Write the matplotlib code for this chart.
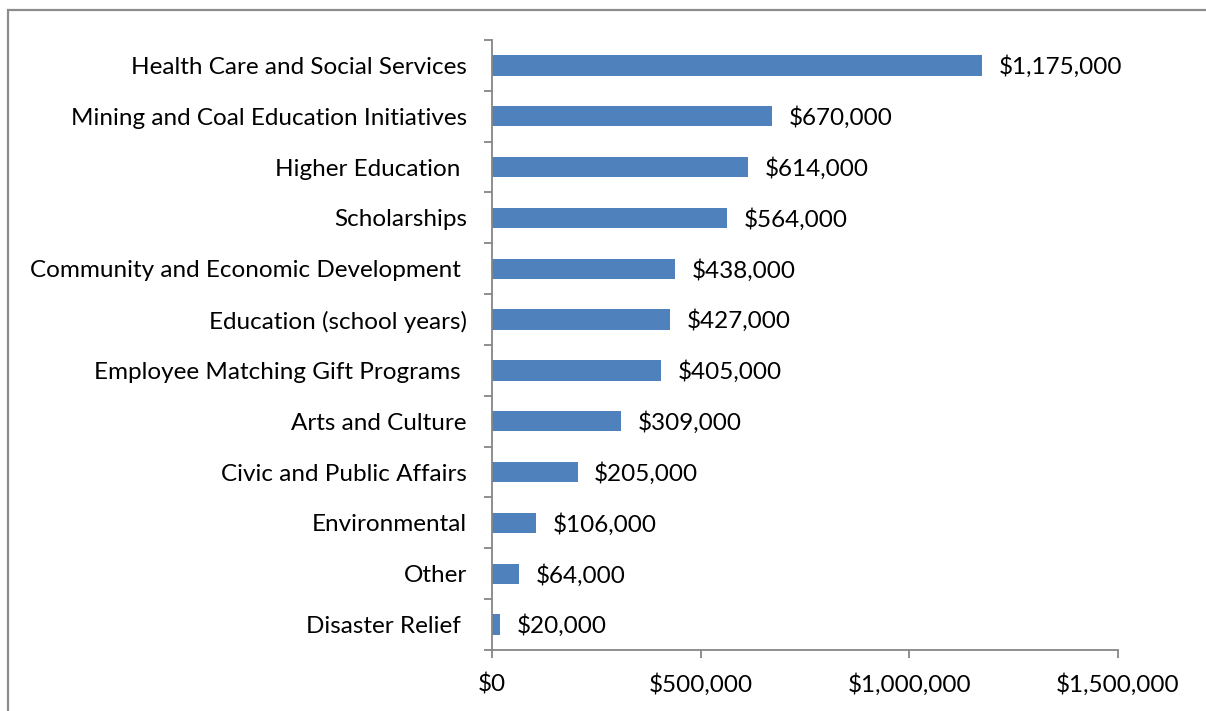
import matplotlib.pyplot as plt
from matplotlib.ticker import FuncFormatter, FixedLocator
from matplotlib.patches import Rectangle

categories = [
    'Health Care and Social Services',
    'Mining and Coal Education Initiatives',
    'Higher Education ',
    'Scholarships',
    'Community and Economic Development ',
    'Education (school years)',
    'Employee Matching Gift Programs ',
    'Arts and Culture',
    'Civic and Public Affairs',
    'Environmental',
    'Other',
    'Disaster Relief ',
]
amounts = [1175000, 670000, 614000, 564000, 438000, 427000,
           405000, 309000, 205000, 106000, 64000, 20000]
x_ticks = [0, 500000, 1000000, 1500000]

plt.rcParams['font.family'] = ['Lato', 'DejaVu Sans']
axis_grey = '#868686'
bar_blue = '#4F81BD'
fs = 17.5

fig = plt.figure(figsize=(12.06, 7.11), dpi=100)
W, H = 1206, 711
# axes box in pixel coords: x 492..1118, y 40..650
ax = fig.add_axes([492 / W, 1 - 650 / H, (1118 - 492) / W, (650 - 40) / H])

n = len(categories)
pos = list(range(n))[::-1]
ax.barh(pos, amounts, height=0.4, color=bar_blue, edgecolor='none')

for p, v in zip(pos, amounts):
    ax.annotate(f'${v:,.0f}', xy=(v, p), xytext=(12, -1), textcoords='offset points',
                va='center', ha='left', fontsize=fs, color='black')

ax.set_xlim(0, 1500000)
ax.set_ylim(-0.5, n - 0.5)
ax.set_xticks(x_ticks)
ax.xaxis.set_major_formatter(FuncFormatter(lambda v, _: f'${v:,.0f}'))
ax.set_yticks(pos)
ax.set_yticklabels(categories)
ax.yaxis.set_minor_locator(FixedLocator([i - 0.5 for i in range(n + 1)]))

for s in ['top', 'right']:
    ax.spines[s].set_visible(False)
for s in ['left', 'bottom']:
    ax.spines[s].set_color(axis_grey)
    ax.spines[s].set_linewidth(1.3)

ax.tick_params(axis='x', direction='out', length=6, width=1.3, color=axis_grey,
               labelsize=fs, pad=11)
ax.tick_params(axis='y', which='major', length=0, labelsize=fs, pad=18)
ax.tick_params(axis='y', which='minor', direction='out', length=6, width=1.3,
               color=axis_grey)

# outer chart frame
fig.patches.append(Rectangle((8 / W, -0.05), 1.2, 1 - 9.5 / H + 0.05,
                             transform=fig.transFigure, fill=False,
                             edgecolor='#8c8c8c', linewidth=1.6))

fig.savefig('out.png', dpi=100)
